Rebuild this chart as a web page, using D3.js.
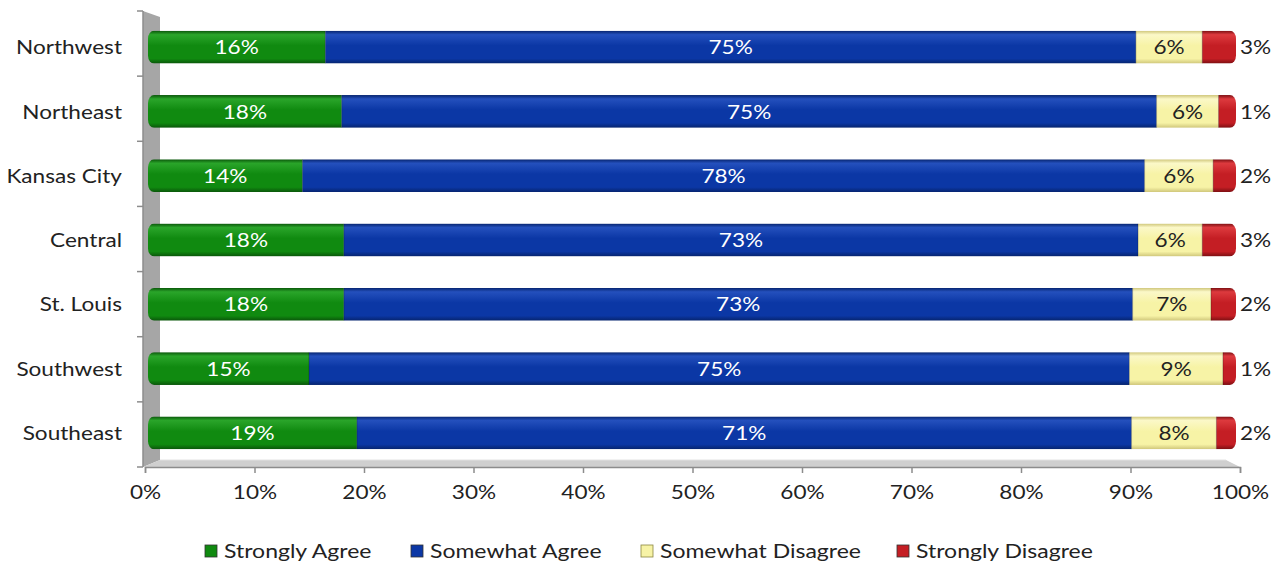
<!DOCTYPE html>
<html><head><meta charset="utf-8">
<script src="https://cdn.jsdelivr.net/npm/d3@7"></script>
<style>body{margin:0;background:#fff}svg{display:block}text{font-family:Lato,"Open Sans",sans-serif}</style>
</head><body><svg id="c" width="1287" height="564"></svg>
<script>
const categories = ["Northwest","Northeast","Kansas City","Central","St. Louis","Southwest","Southeast"];
const seriesNames = ["Strongly Agree","Somewhat Agree","Somewhat Disagree","Strongly Disagree"];
const stronglyAgree    = [16.3, 17.8, 14.2, 18.0, 18.0, 14.8, 19.2];
const somewhatAgree    = [74.5, 74.9, 77.4, 73.0, 72.5, 75.4, 71.2];
const somewhatDisagree = [6.1, 5.7, 6.3, 5.9, 7.2, 8.6, 7.8];
const stronglyDisagree = [3.1, 1.6, 2.1, 3.1, 2.3, 1.2, 1.8];
const labelAgree    = ["16%","18%","14%","18%","18%","15%","19%"];
const labelSwAgree  = ["75%","75%","78%","73%","73%","75%","71%"];
const labelSwDis    = ["6%","6%","6%","6%","7%","9%","8%"];
const labelDis      = ["3%","1%","2%","3%","2%","1%","2%"];
const tickValues = [0,10,20,30,40,50,60,70,80,90,100];

const SX = 1.13;
const svg = d3.select("#c");
const defs = svg.append("defs");
const colors = [
  {base:"#108a10", top:"#2aa52a", bot:"#0a560a", name:"g"},
  {base:"#0b37a5", top:"#2450bd", bot:"#06246e", name:"b"},
  {base:"#f7f3a6", top:"#fbf8c8", bot:"#cfc67a", name:"y"},
  {base:"#c41e24", top:"#dd3a3e", bot:"#7c0f12", name:"r"}
];
colors.forEach(c=>{
  const g = defs.append("linearGradient").attr("id","grad-"+c.name).attr("x1",0).attr("y1",0).attr("x2",0).attr("y2",1);
  g.append("stop").attr("offset","0%").attr("stop-color",c.bot);
  g.append("stop").attr("offset","12%").attr("stop-color",c.top);
  g.append("stop").attr("offset","45%").attr("stop-color",c.base);
  g.append("stop").attr("offset","85%").attr("stop-color",c.base);
  g.append("stop").attr("offset","100%").attr("stop-color",c.bot);
});

function stext(x, yv, txt, opts){
  return svg.append("text")
    .attr("transform",`translate(${x},${yv}) scale(${opts.sx||SX},1)`)
    .attr("dy","0.36em").attr("text-anchor",opts.anchor||"start")
    .attr("font-size",opts.size||20).attr("fill",opts.fill||"#222").text(txt);
}

const xAxisScale = d3.scaleLinear().domain([0,100]).range([145,1240]);
const xBar = d3.scaleLinear().domain([0,100]).range([148,1236]);
const y = d3.scaleBand().domain(categories).range([15,465]).paddingInner(0.49).paddingOuter(0.245);

// 3D wall and floor
svg.append("path").attr("d","M143,11 L160,17 L160,460 L143,467 Z").attr("fill","#a6a6a6");
svg.append("path").attr("d","M143,467 L160,460 L1226,460 L1240,467 Z").attr("fill","#cfcfcf");
svg.append("line").attr("x1",160).attr("y1",460).attr("x2",1226).attr("y2",460).attr("stroke","#e2e2e2");

// Left axis
svg.append("line").attr("x1",143).attr("y1",11).attr("x2",143).attr("y2",467).attr("stroke","#8c8c8c").attr("stroke-width",1.5);
const bounds = d3.range(categories.length+1).map(i=> 11 + i*(467-11)/categories.length);
svg.selectAll(".ytick").data(bounds).enter().append("line")
  .attr("x1",137).attr("x2",143).attr("y1",d=>d).attr("y2",d=>d).attr("stroke","#8c8c8c").attr("stroke-width",1.5);

// bottom axis
const xa = svg.append("g").attr("transform","translate(0,467)")
  .call(d3.axisBottom(xAxisScale).tickValues(tickValues).tickFormat(d=>d+"%").tickSize(6).tickPadding(12));
xa.select(".domain").attr("stroke","#8c8c8c").attr("stroke-width",1.5);
xa.selectAll(".tick line").attr("stroke","#8c8c8c").attr("stroke-width",1.5);
xa.selectAll("text").attr("font-size",20).attr("fill","#222").style("font-family","Lato").attr("transform",`scale(${SX},1)`);

// category labels
categories.forEach(d=>{
  stext(122, y(d)+y.bandwidth()/2, d, {anchor:"end", size:20});
});

const series = [stronglyAgree, somewhatAgree, somewhatDisagree, stronglyDisagree];
const labels = [labelAgree, labelSwAgree, labelSwDis, labelDis];
categories.forEach((cat,i)=>{
  const total = series.reduce((s,a)=>s+a[i],0);
  const yy = y(cat), h = y.bandwidth();
  const cid = "clip"+i;
  defs.append("clipPath").attr("id",cid).append("rect")
    .attr("x",xBar(0)).attr("y",yy).attr("width",xBar(100)-xBar(0)).attr("height",h).attr("rx",6).attr("ry",8);
  const g = svg.append("g").attr("clip-path",`url(#${cid})`);
  let acc = 0;
  series.forEach((arr,k)=>{
    const v = arr[i]/total*100;
    g.append("rect").attr("x",xBar(acc)).attr("y",yy).attr("width",xBar(acc+v)-xBar(acc)).attr("height",h)
      .attr("fill",`url(#grad-${colors[k].name})`);
    if(k>0) g.append("line").attr("x1",xBar(acc)).attr("x2",xBar(acc)).attr("y1",yy).attr("y2",yy+h).attr("stroke","rgba(0,0,0,0.25)");
    const cx = k<3 ? (xBar(acc)+xBar(acc+v))/2 : xBar(100)+4;
    stext(cx, yy+h/2, labels[k][i], {anchor:k<3?"middle":"start", size:20, fill:k<2?"#ffffff":"#222"});
    acc += v;
  });
});

// legend
const legX = [205,411,641,897];
seriesNames.forEach((n,k)=>{
  svg.append("rect").attr("x",legX[k]).attr("y",545).attr("width",12).attr("height",12)
    .attr("fill",colors[k].base).attr("stroke",k==2?"#8a8540":"#333").attr("stroke-width",0.8);
  stext(legX[k]+19, 551, n, {size:20, sx:1.15});
});
</script></body></html>
